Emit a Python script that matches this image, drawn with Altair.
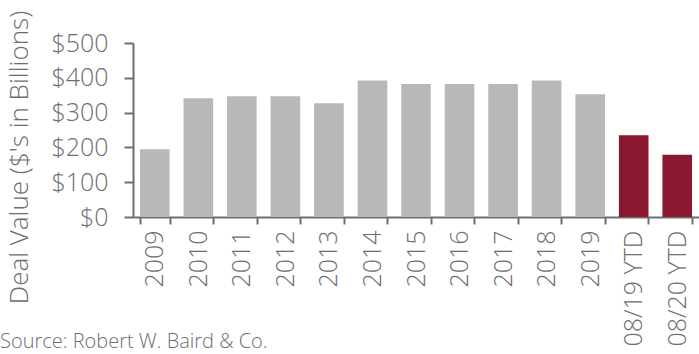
import altair as alt
import pandas as pd

categories = ["2009", "2010", "2011", "2012", "2013", "2014", "2015", "2016",
              "2017", "2018", "2019", "08/19 YTD", "08/20 YTD"]
values = [195, 341, 347, 347, 327, 392, 382, 382, 382, 392, 353, 235, 179]
groups = ["annual"] * 11 + ["ytd"] * 2
y_ticks = [0, 100, 200, 300, 400, 500]

df = pd.DataFrame({"cat": categories, "value": values, "grp": groups})

FONT = "Open Sans"
GREY = "#6d6e71"
W = 300

bars = alt.Chart(df).mark_bar().encode(
    x=alt.X("cat:N", sort=categories, title=None,
            scale=alt.Scale(paddingInner=0.32, paddingOuter=0.16),
            axis=alt.Axis(labelAngle=-90, labelFontSize=25, labelFont=FONT,
                          labelFontWeight=W,
                          labelColor=GREY, labelPadding=6, tickBand="extent",
                          tickSize=7, tickColor=GREY, tickWidth=2, grid=False,
                          domainColor=GREY, domainWidth=2, labelAlign="right",
                          labelBaseline="middle")),
    y=alt.Y("value:Q", scale=alt.Scale(domain=[0, 500]),
            title="Deal Value ($'s in Billions)",
            axis=alt.Axis(values=y_ticks, format="$,.0f", labelFontSize=25,
                          labelFont=FONT, labelFontWeight=W, labelColor=GREY,
                          tickSize=9, tickColor=GREY, tickWidth=2,
                          domainColor=GREY, domainWidth=2, labelPadding=16,
                          grid=False, titleFont=FONT, titleFontSize=26,
                          titleColor=GREY, titleFontWeight=W, titleAngle=-90,
                          titleX=-127, titleY=114, titleAlign="center",
                          titleBaseline="top")),
    color=alt.Color("grp:N", legend=None,
                    scale=alt.Scale(domain=["annual", "ytd"],
                                    range=["#b7b8ba", "#8a1830"])),
)

source = alt.Chart(pd.DataFrame({"t": ["Source: Robert W. Baird & Co."]})).mark_text(
    align="left", baseline="alphabetic", fontSize=20, font=FONT, fontWeight=W,
    color=GREY
).encode(x=alt.value(-133), y=alt.value(305), text="t:N")

chart = alt.layer(bars, source).properties(
    width=566, height=174,
    background="white",
    autosize=alt.AutoSizeParams(type="none"),
    padding={"left": 133, "top": 43, "right": 0, "bottom": 137},
).configure_view(stroke=None).configure_axis(grid=False)

chart.save("out.html", embed_options={"renderer": "svg", "actions": False})
